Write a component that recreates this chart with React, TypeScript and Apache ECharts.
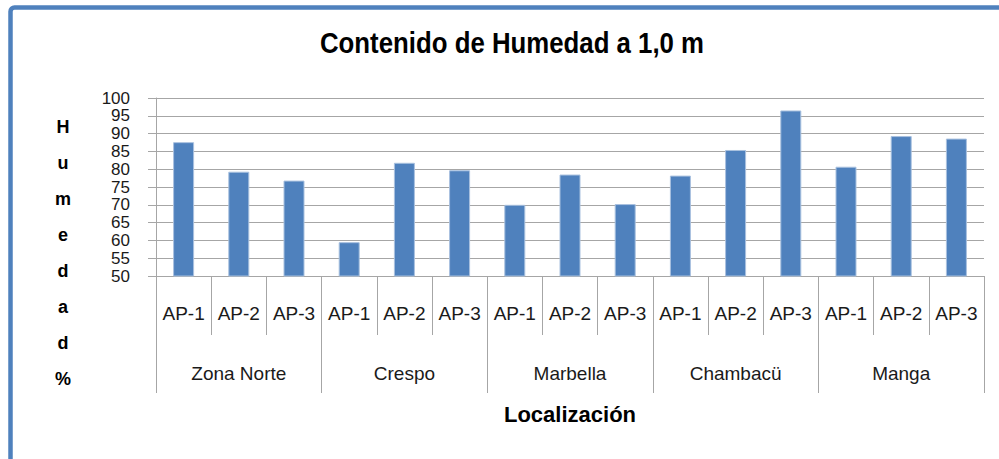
import React, { useEffect, useRef } from "react";
import * as echarts from "echarts";

const pointLabels = [
  "AP-1", "AP-2", "AP-3",
  "AP-1", "AP-2", "AP-3",
  "AP-1", "AP-2", "AP-3",
  "AP-1", "AP-2", "AP-3",
  "AP-1", "AP-2", "AP-3",
];
const zones = ["Zona Norte", "Crespo", "Marbella", "Chambacü", "Manga"];
const humidity = [87.6, 79.3, 76.8, 59.5, 81.8, 79.7, 70.0, 78.5, 70.2, 78.2, 85.4, 96.5, 80.7, 89.3, 88.6];
const yMin = 50;
const yMax = 100;
const yStep = 5;
const titleText = "Contenido de Humedad a 1,0 m";
const yTitle = "H\nu\nm\ne\nd\na\nd\n%";
const xTitle = "Localización";

const SANS = '"Liberation Sans", Arial, sans-serif';
const GRID_GRAY = "#a6a6a6";
const BLUE = "#4f81bd";

export default function App() {
  const ref = useRef<HTMLDivElement>(null);
  useEffect(() => {
    if (!ref.current) return;
    const chart = echarts.init(ref.current, undefined, { renderer: "svg" });
    chart.setOption({
      animation: false,
      backgroundColor: "#ffffff",
      grid: { left: 156, right: 15, top: 98, bottom: 183, containLabel: false },
      xAxis: [
        {
          type: "category",
          data: pointLabels,
          position: "bottom",
          boundaryGap: true,
          axisLine: { show: true, lineStyle: { color: GRID_GRAY, width: 1 } },
          axisTick: { show: true, length: 59, lineStyle: { color: GRID_GRAY, width: 1 } },
          axisLabel: {
            margin: 28,
            interval: 0,
            fontFamily: SANS,
            fontSize: 19,
            color: "#1a1a1a",
          },
        },
        {
          type: "category",
          data: zones,
          position: "bottom",
          offset: 0,
          boundaryGap: true,
          axisLine: { show: false },
          axisTick: { show: true, length: 117, lineStyle: { color: GRID_GRAY, width: 1 } },
          axisLabel: {
            margin: 88,
            interval: 0,
            fontFamily: SANS,
            fontSize: 19,
            color: "#1a1a1a",
          },
        },
      ],
      yAxis: {
        type: "value",
        min: yMin,
        max: yMax,
        interval: yStep,
        axisLine: { show: true, lineStyle: { color: GRID_GRAY, width: 1 } },
        axisTick: { show: true, length: 8, lineStyle: { color: GRID_GRAY, width: 1 } },
        splitLine: { show: true, lineStyle: { color: GRID_GRAY, width: 1.2 } },
        axisLabel: {
          margin: 26,
          fontFamily: SANS,
          fontSize: 17,
          lineHeight: 14,
          color: "#1a1a1a",
          showMinLabel: true,
          showMaxLabel: true,
          hideOverlap: false,
        },
      },
      series: [
        {
          type: "bar",
          xAxisIndex: 0,
          data: humidity,
          barWidth: 21,
          itemStyle: { color: BLUE, borderColor: "#a9c1df", borderWidth: 1 },
        },
      ],
      graphic: [
        {
          type: "rect",
          shape: { x: 10.5, y: 7.5, width: 1100, height: 600, r: 4 },
          style: { fill: "none", stroke: BLUE, lineWidth: 4.5 },
          silent: true,
        },
        {
          type: "text",
          x: 512,
          y: 43,
          scaleX: 0.86,
          style: {
            text: titleText,
            font: `bold 30px ${SANS}`,
            fill: "#000000",
            textAlign: "center",
            textVerticalAlign: "middle",
          },
        },
        {
          type: "text",
          x: 63,
          y: 253,
          style: {
            text: yTitle,
            font: `bold 18px ${SANS}`,
            lineHeight: 36,
            fill: "#000000",
            textAlign: "center",
            textVerticalAlign: "middle",
          },
        },
        {
          type: "text",
          x: 570,
          y: 414,
          style: {
            text: xTitle,
            font: `bold 22px ${SANS}`,
            fill: "#000000",
            textAlign: "center",
            textVerticalAlign: "middle",
          },
        },
      ],
    });
    return () => chart.dispose();
  }, []);
  return (
    <div
      ref={ref}
      style={{ position: "absolute", left: 0, top: 0, width: 999, height: 459 }}
    />
  );
}
